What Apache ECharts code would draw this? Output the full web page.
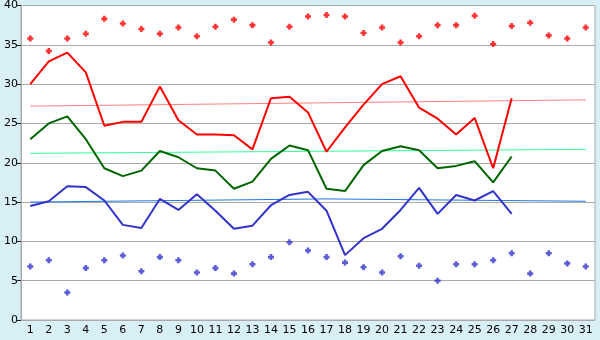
<!DOCTYPE html>
<html>
<head>
<meta charset="utf-8">
<script src="https://cdn.jsdelivr.net/npm/echarts@6/dist/echarts.min.js"></script>
<style>
  html, body { margin: 0; padding: 0; background: #d9eff6; }
  #chart { width: 600px; height: 340px; }
</style>
</head>
<body>
<div id="chart"></div>
<script>
const days = ["1","2","3","4","5","6","7","8","9","10","11","12","13","14","15","16","17","18","19","20","21","22","23","24","25","26","27","28","29","30","31"];

// daily lines (days 1-27)
const highLine = [30.0, 32.9, 34.0, 31.5, 24.7, 25.2, 25.2, 29.7, 25.4, 23.6, 23.6, 23.5, 21.7, 28.2, 28.4, 26.4, 21.4, 24.5, 27.4, 30.0, 31.0, 27.0, 25.6, 23.6, 25.7, 19.3, 28.2];
const midLine = [23.0, 25.0, 25.9, 23.0, 19.3, 18.3, 19.0, 21.5, 20.7, 19.3, 19.0, 16.7, 17.6, 20.5, 22.2, 21.6, 16.7, 16.4, 19.7, 21.5, 22.1, 21.6, 19.3, 19.6, 20.2, 17.5, 20.8];
const lowLine = [14.5, 15.1, 17.0, 16.9, 15.2, 12.1, 11.7, 15.4, 14.0, 16.0, 13.9, 11.6, 12.0, 14.6, 15.9, 16.3, 13.9, 8.25, 10.4, 11.6, 14.0, 16.8, 13.5, 15.9, 15.2, 16.4, 13.5];

// record points (days 1-31)
const highPoints = [35.8, 34.2, 35.8, 36.4, 38.3, 37.7, 37.0, 36.4, 37.2, 36.1, 37.3, 38.2, 37.5, 35.3, 37.3, 38.6, 38.8, 38.6, 36.5, 37.2, 35.3, 36.1, 37.5, 37.5, 38.7, 35.1, 37.4, 37.8, 36.2, 35.8, 37.2];
const lowPoints = [6.8, 7.6, 3.5, 6.6, 7.6, 8.2, 6.2, 8.0, 7.6, 6.05, 6.6, 5.9, 7.1, 8.0, 9.9, 8.85, 8.0, 7.3, 6.7, 6.05, 8.1, 6.9, 5.0, 7.1, 7.1, 7.6, 8.5, 5.9, 8.5, 7.2, 6.8];

// trend lines: [day index, value]
const highTrend = [[0, 27.2], [30, 28.0]];
const midTrend = [[0, 21.2], [30, 21.7]];
const lowTrend = [[0, 15.0], [16, 15.4], [30, 15.1]];

// small plus marker
const marker = "path://M2,0H5V2H7V5H5V7H2V5H0V2H2Z";

const chart = echarts.init(document.getElementById("chart"));

function trend(data, color) {
  return {
    type: "line", data, symbol: "none", silent: true, z: 1,
    lineStyle: { color, width: 1 }
  };
}
function daily(data, color) {
  return {
    type: "line", data, symbol: "none", z: 3,
    lineStyle: { color, width: 2 }
  };
}
function points(data, color) {
  return {
    type: "scatter", data, symbol: marker, symbolSize: 6, z: 4,
    itemStyle: { color }
  };
}

chart.setOption({
  animation: false,
  backgroundColor: "#d9eff6",
  grid: {
    left: 21, right: 5, top: 5, bottom: 20,
    show: true, backgroundColor: "#fff", borderColor: "#aaa", borderWidth: 1
  },
  xAxis: {
    type: "category",
    data: days,
    boundaryGap: true,
    axisLine: { lineStyle: { color: "#aaa" } },
    axisTick: { alignWithLabel: true, length: 5, lineStyle: { color: "#222" } },
    axisLabel: { color: "#000", fontFamily: "DejaVu Sans", fontSize: 11, margin: 5, interval: 0 }
  },
  yAxis: {
    type: "value",
    min: 0, max: 40, interval: 5,
    axisLine: { show: true, lineStyle: { color: "#aaa" } },
    axisTick: { show: true, length: 4, lineStyle: { color: "#222" } },
    axisLabel: { color: "#000", fontFamily: "DejaVu Sans", fontSize: 11, margin: 3 },
    splitLine: { lineStyle: { color: "#aaa" } }
  },
  series: [
    trend(highTrend, "#ff8080"),
    trend(midTrend, "#33ff99"),
    trend(lowTrend, "#1e78e6"),
    daily(highLine, "#ff0000"),
    daily(midLine, "#006600"),
    daily(lowLine, "#3333cc"),
    points(highPoints, "#ff0000"),
    points(lowPoints, "#3333cc")
  ]
});
</script>
</body>
</html>
